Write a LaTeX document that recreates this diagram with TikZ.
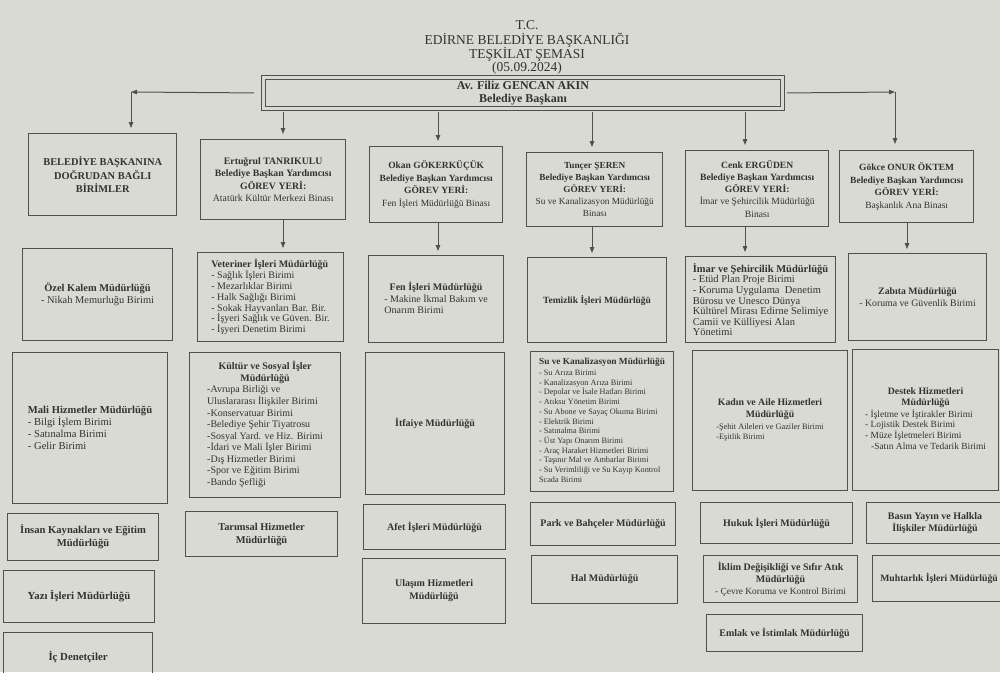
\documentclass[tikz,border=0pt]{standalone}
\usepackage{fontspec}
\setmainfont{Liberation Serif}
\usetikzlibrary{arrows.meta,calc}
\definecolor{paper}{RGB}{218,218,212}
\definecolor{ink}{RGB}{50,50,50}
\definecolor{lineclr}{RGB}{80,80,80}
\newcommand{\orgbox}[7]{\node[box,#6,minimum width={(#4-#2)*1pt},minimum height={(#5-#3)*1pt},anchor=north west] (#1) at (#2,#3) {#7};}
\newcommand{\itemlist}[3]{{\fontsize{#1}{#2}\selectfont\begin{tabular}[t]{@{}l@{}}#3\end{tabular}}}
\tikzset{
  box/.style={draw=lineclr, line width=1.1pt, inner sep=2pt, text=ink, align=center, font=\fontsize{10}{12}\selectfont},
  hdr/.style={line width=1.4pt, font=\fontsize{9.8}{12.5}\selectfont},
  lst/.style={align=left, font=\fontsize{10}{10.8}\selectfont},
  bld/.style={font=\fontsize{10}{12.5}\selectfont\bfseries},
  pres/.style={draw=lineclr, line width=1pt, double=paper, double distance=2.4pt, text=ink, align=center, font=\fontsize{12}{13}\selectfont},
  ttl/.style={text=ink, font=\fontsize{13.5}{14}\selectfont, inner sep=0pt},
  conn/.style={draw=lineclr, line width=1pt, -{Triangle[length=6pt,width=4.5pt]}}
}
\begin{document}
\begin{tikzpicture}[x=1pt,y=-1pt]
\fill[paper] (0,0) rectangle (1000,672);
\useasboundingbox (0,0) rectangle (1000,672);

% title
\node[ttl] (t1) at (527,25) {T.C.};
\node[ttl] (t2) at (527,40) {EDİRNE BELEDİYE BAŞKANLIĞI};
\node[ttl] (t3) at (527,54) {TEŞKİLAT ŞEMASI};
\node[ttl] (t4) at (527,68) {(05.09.2024)};

\node[pres, minimum width=519pt, minimum height=31pt, anchor=north west] (pres) at (263,77)
  {\textbf{Av. Filiz GENCAN AKIN}\\\textbf{Belediye Başkanı}};

% headers
\orgbox{h1}{28}{133}{176}{215}{hdr,font=\fontsize{10.4}{13.5}\selectfont\bfseries}{BELEDİYE BAŞKANINA\\DOĞRUDAN BAĞLI\\BİRİMLER}
\orgbox{h2}{200}{139}{345}{219}{hdr}{\textbf{Ertuğrul TANRIKULU}\\\textbf{Belediye Başkan Yardımcısı}\\\textbf{GÖREV YERİ:}\\Atatürk Kültür Merkezi Binası}
\orgbox{h3}{369}{146}{502}{222}{hdr,font=\fontsize{9.5}{12.5}\selectfont}{\textbf{Okan GÖKERKÜÇÜK}\\\textbf{Belediye Başkan Yardımcısı}\\\textbf{GÖREV YERİ:}\\Fen İşleri Müdürlüğü Binası}
\orgbox{h4}{526}{152}{662}{226}{hdr,font=\fontsize{9.3}{12}\selectfont}{\textbf{Tunçer ŞEREN}\\\textbf{Belediye Başkan Yardımcısı}\\\textbf{GÖREV YERİ:}\\Su ve Kanalizasyon Müdürlüğü\\Binası}
\orgbox{h5}{685}{150}{828}{226}{hdr,font=\fontsize{9.6}{12.2}\selectfont}{\textbf{Cenk ERGÜDEN}\\\textbf{Belediye Başkan Yardımcısı}\\\textbf{GÖREV YERİ:}\\İmar ve Şehircilik Müdürlüğü\\Binası}
\orgbox{h6}{839}{150}{973}{222}{hdr,font=\fontsize{9.5}{12.5}\selectfont}{\textbf{Gökce ONUR ÖKTEM}\\\textbf{Belediye Başkan Yardımcısı}\\\textbf{GÖREV YERİ:}\\Başkanlık Ana Binası}

% row 2
\orgbox{r2c1}{22}{248}{172}{340}{font=\fontsize{10.4}{12}\selectfont}{\textbf{Özel Kalem Müdürlüğü}\\- Nikah Memurluğu Birimi}
\orgbox{r2c2}{197}{252}{343}{341}{lst}{\textbf{Veteriner İşleri Müdürlüğü}\\- Sağlık İşleri Birimi\\- Mezarlıklar Birimi\\- Halk Sağlığı Birimi\\- Sokak Hayvanları Bar. Bir.\\- İşyeri Sağlık ve Güven. Bir.\\- İşyeri Denetim Birimi}
\orgbox{r2c3}{368}{255}{503}{342}{}{\textbf{Fen İşleri Müdürlüğü}\\\itemlist{10}{11}{- Makine İkmal Bakım ve\\Onarım Birimi}}
\orgbox{r2c4}{527}{257}{666}{342}{font=\fontsize{9.5}{12}\selectfont}{\textbf{Temizlik İşleri Müdürlüğü}}
\orgbox{r2c5}{685}{256}{835}{342}{lst,font=\fontsize{10.5}{10.6}\selectfont}{\textbf{İmar ve Şehircilik Müdürlüğü}\\- Etüd Plan Proje Birimi\\- Koruma Uygulama\ \ Denetim\\Bürosu ve Unesco Dünya\\Kültürel Mirası Edirne Selimiye\\Camii ve Külliyesi Alan\\Yönetimi}
\orgbox{r2c6}{848}{253}{986}{340}{font=\fontsize{9.8}{12}\selectfont}{\textbf{Zabıta Müdürlüğü}\\- Koruma ve Güvenlik Birimi}

% row 3
\orgbox{r3c1}{12}{352}{167}{503}{lst,font=\fontsize{10.6}{12}\selectfont}{\textbf{Mali Hizmetler Müdürlüğü}\\- Bilgi İşlem Birimi\\- Satınalma Birimi\\- Gelir Birimi}
\orgbox{r3c2}{189}{352}{340}{497}{font=\fontsize{10}{11.5}\selectfont}{\textbf{Kültür ve Sosyal İşler}\\\textbf{Müdürlüğü}\\\itemlist{10}{11.5}{-Avrupa Birliği ve\\Uluslararası İlişkiler Birimi\\-Konservatuar Birimi\\-Belediye Şehir Tiyatrosu\\-Sosyal Yard. ve Hiz. Birimi\\-İdari ve Mali İşler Birimi\\-Dış Hizmetler Birimi\\-Spor ve Eğitim Birimi\\-Bando Şefliği}}
\orgbox{r3c3}{365}{352}{504}{494}{}{\textbf{İtfaiye Müdürlüğü}}
\orgbox{r3c4}{530}{351}{673}{491}{lst,font=\fontsize{9.3}{11}\selectfont}{\textbf{Su ve Kanalizasyon Müdürlüğü}\\\itemlist{8.2}{9.7}{- Su Arıza Birimi\\- Kanalizasyon Arıza Birimi\\- Depolar ve İsale Hatları Birimi\\- Atıksu Yönetim Birimi\\- Su Abone ve Sayaç Okuma Birimi\\- Elektrik Birimi\\- Satınalma Birimi\\- Üst Yapı Onarım Birimi\\- Araç Haraket Hizmetleri Birimi\\- Taşınır Mal ve Ambarlar Birimi\\- Su Verimliliği ve Su Kayıp Kontrol\\Scada Birimi}}
\orgbox{r3c5}{692}{350}{847}{490}{font=\fontsize{9.8}{12}\selectfont}{\textbf{Kadın ve Aile Hizmetleri}\\\textbf{Müdürlüğü}\\\itemlist{8.3}{10}{-Şehit Aileleri ve Gaziler Birimi\\-Eşitlik Birimi}}
\orgbox{r3c6}{852}{349}{998}{490}{font=\fontsize{9.8}{11.5}\selectfont}{\textbf{Destek Hizmetleri}\\\textbf{Müdürlüğü}\\\itemlist{9.4}{10.8}{- İşletme ve İştirakler Birimi\\- Lojistik Destek Birimi\\- Müze İşletmeleri Birimi\\\hspace{6pt}-Satın Alma ve Tedarik Birimi}}

% row 4
\orgbox{r4c1}{7}{513}{158}{560}{bld,font=\fontsize{10.6}{13}\selectfont\bfseries}{İnsan Kaynakları ve Eğitim\\Müdürlüğü}
\orgbox{r4c2}{185}{511}{337}{556}{bld,font=\fontsize{10.4}{13}\selectfont\bfseries}{Tarımsal Hizmetler\\Müdürlüğü}
\orgbox{r4c3}{363}{504}{505}{549}{bld}{Afet İşleri Müdürlüğü}
\orgbox{r4c4}{530}{502}{675}{545}{bld}{Park ve Bahçeler Müdürlüğü}
\orgbox{r4c5}{700}{502}{852}{543}{bld}{Hukuk İşleri Müdürlüğü}
\orgbox{r4c6}{866}{502}{1003}{543}{bld}{Basın Yayın ve Halkla\\İlişkiler Müdürlüğü}

% row 5
\orgbox{r5c1}{3}{570}{154}{622}{bld,font=\fontsize{10.8}{13}\selectfont\bfseries}{Yazı İşleri Müdürlüğü}
\orgbox{r5c3}{362}{558}{505}{623}{bld,font=\fontsize{10}{13}\selectfont\bfseries}{Ulaşım Hizmetleri\\Müdürlüğü}
\orgbox{r5c4}{531}{555}{677}{603}{bld}{Hal Müdürlüğü}
\orgbox{r5c5}{703}{555}{857}{602}{font=\fontsize{10}{12}\selectfont}{\textbf{İklim Değişikliği ve Sıfır Atık}\\\textbf{Müdürlüğü}\\{\fontsize{9.4}{12}\selectfont - Çevre Koruma ve Kontrol Birimi}}
\orgbox{r5c6}{872}{555}{1005}{601}{bld,font=\fontsize{9.7}{12}\selectfont\bfseries}{Muhtarlık İşleri Müdürlüğü}

% row 6
\orgbox{r6c1}{3}{632}{152}{680}{bld,font=\fontsize{10.8}{13}\selectfont\bfseries}{İç Denetçiler}
\orgbox{r6c5}{706}{614}{862}{651}{bld}{Emlak ve İstimlak Müdürlüğü}

% connectors
\coordinate (cL) at (131,92);
\coordinate (cR) at (895,92);
\coordinate (x2) at (283,0);
\coordinate (x3) at (438,0);
\coordinate (x4) at (592,0);
\coordinate (x5) at (745,0);
\coordinate (x6) at (907,0);
\draw[conn, shorten <=9pt] (pres.west) -- (cL);
\draw[conn, shorten >=5pt] (cL) -- (cL |- h1.north);
\draw[conn, shorten <=4pt] (pres.east) -- (cR);
\draw[conn, shorten >=6pt] (cR) -- (cR |- h6.north);
\draw[conn, shorten <=3pt, shorten >=5pt] (pres.south -| x2) -- (h2.north -| x2);
\draw[conn, shorten <=3pt, shorten >=5pt] (pres.south -| x3) -- (h3.north -| x3);
\draw[conn, shorten <=3pt, shorten >=5pt] (pres.south -| x4) -- (h4.north -| x4);
\draw[conn, shorten <=3pt, shorten >=5pt] (pres.south -| x5) -- (h5.north -| x5);
\draw[conn, shorten >=4pt] (h2.south -| x2) -- (r2c2.north -| x2);
\draw[conn, shorten >=4pt] (h3.south -| x3) -- (r2c3.north -| x3);
\draw[conn, shorten >=4pt] (h4.south -| x4) -- (r2c4.north -| x4);
\draw[conn, shorten >=4pt] (h5.south -| x5) -- (r2c5.north -| x5);
\draw[conn, shorten >=4pt] (h6.south -| x6) -- (r2c6.north -| x6);
\end{tikzpicture}
\end{document}
